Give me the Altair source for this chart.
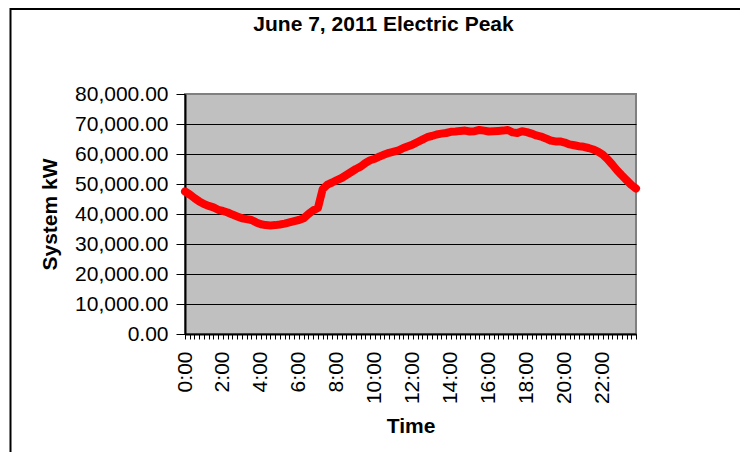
import altair as alt
import pandas as pd

# 15-minute intervals, 0:00 .. 23:45
times = [f"{h}:{m:02d}" for h in range(24) for m in (0, 15, 30, 45)]
hour_labels = ["0:00", "2:00", "4:00", "6:00", "8:00", "10:00",
               "12:00", "14:00", "16:00", "18:00", "20:00", "22:00"]

system_kw = [
    47500, 46500, 45300, 44200,   # 0:00
    43300, 42700, 42200, 41400,   # 1:00
    41000, 40500, 39800, 39200,   # 2:00
    38600, 38300, 38000, 37200,   # 3:00
    36600, 36300, 36200, 36300,   # 4:00
    36500, 36800, 37200, 37600,   # 5:00
    38000, 38600, 40000, 41200,   # 6:00
    42000, 48300, 49800, 50500,   # 7:00
    51300, 52000, 53000, 54000,   # 8:00
    55000, 55800, 57000, 57900,   # 9:00
    58400, 59200, 59800, 60400,   # 10:00
    60800, 61200, 62000, 62600,   # 11:00
    63200, 64000, 64800, 65600,   # 12:00
    66000, 66500, 66800, 67000,   # 13:00
    67400, 67500, 67700, 67800,   # 14:00
    67500, 67600, 68000, 67800,   # 15:00
    67500, 67600, 67700, 67800,   # 16:00
    68000, 67200, 67000, 67600,   # 17:00
    67300, 66800, 66200, 65800,   # 18:00
    65200, 64500, 64200, 64200,   # 19:00
    63800, 63200, 62900, 62600,   # 20:00
    62400, 62000, 61500, 60800,   # 21:00
    59800, 58300, 56500, 54600,   # 22:00
    52900, 51300, 49700, 48500,   # 23:00
]
y_ticks = [0, 10000, 20000, 30000, 40000, 50000, 60000, 70000, 80000]

df = pd.DataFrame({"idx": list(range(len(times))), "time": times, "kw": system_kw})

FONT = "Liberation Sans"
W, H = 451, 240
PAD = {"left": 177, "top": 86, "right": 104, "bottom": 118}

label_arr = "[" + ",".join(f"'{s}'" for s in hour_labels) + "]"
label_expr = f"datum.value % 8 == 0 ? {label_arr}[datum.value / 8] : ''"

line = alt.Chart(df).mark_line(
    color="#FF0000", strokeWidth=8, strokeCap="round", strokeJoin="round"
).encode(
    x=alt.X("idx:Q",
            scale=alt.Scale(domain=[0, len(times) - 1], nice=False, zero=False),
            axis=alt.Axis(title="Time", values=list(range(len(times))),
                          labelExpr=label_expr, labelAngle=270, labelOverlap=False,
                          labelFontSize=21, labelFont=FONT, labelColor="black",
                          labelPadding=12, tickSize=5, tickColor="black",
                          domainColor="black", domainWidth=2, grid=False,
                          titleFont=FONT, titleFontSize=21, titleFontWeight="bold",
                          titleColor="black", titlePadding=12)),
    y=alt.Y("kw:Q",
            scale=alt.Scale(domain=[0, 80000], nice=False),
            axis=alt.Axis(title="System kW", values=y_ticks, format=",.2f",
                          labelFontSize=21, labelFont=FONT, labelColor="black",
                          labelPadding=8, tickSize=9, tickColor="black",
                          domainColor="black", domainWidth=2,
                          grid=True,
                          gridColor=alt.condition("datum.value == 80000",
                                                  alt.value("#808080"),
                                                  alt.value("black")),
                          gridWidth=1,
                          titleFont=FONT, titleFontSize=21, titleFontWeight="bold",
                          titleColor="black", titlePadding=14)),
)

border_src = alt.Data(values=[{}])
left_border = alt.Chart(border_src).mark_rule(color="black", strokeWidth=2).encode(
    x=alt.value(-174.5), y=alt.value(-PAD["top"]), y2=alt.value(H + PAD["bottom"])
)
top_border = alt.Chart(border_src).mark_rule(color="black", strokeWidth=2).encode(
    y=alt.value(-PAD["top"] + 1), x=alt.value(-174.5), x2=alt.value(W + PAD["right"])
)

chart = alt.layer(left_border, top_border, line).properties(
    width=W, height=H,
    autosize=alt.AutoSizeParams(type="none"),
    padding=PAD,
    background="white",
    title=alt.TitleParams("June 7, 2011 Electric Peak", font=FONT, fontSize=21,
                          fontWeight="bold", color="black", anchor="middle",
                          baseline="alphabetic", offset=0, dx=-27, dy=45),
).configure_view(
    fill="#C0C0C0", stroke="#808080", strokeWidth=2
)

chart.save("out.html", embed_options={"renderer": "svg", "actions": False})
